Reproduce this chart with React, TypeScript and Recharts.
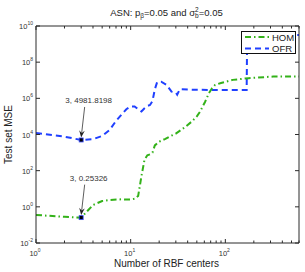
import { LineChart, Line, XAxis, YAxis, ReferenceDot } from 'recharts';

// HOM series (number of RBF centers, test set MSE)
const homN = [1, 2, 3, 4, 5, 6, 8, 10, 11, 12, 13, 14, 15, 16, 17, 18, 20, 23, 26, 30, 38, 44, 50, 54, 61, 67, 72, 78, 90, 120, 176, 320, 600];
const homMse = [0.355, 0.28, 0.25326, 1.26, 2.1, 2.4, 2.6, 2.5, 2.8, 4.0, 50, 400, 710, 800, 1000, 2500, 4000, 5600, 7900, 11200, 27000, 51000, 100000, 182000, 630000, 1.9e6, 3.5e6, 5.5e6, 7.1e6, 1.05e7, 1.3e7, 1.6e7, 1.6e7];

// OFR series
const ofrN = [1, 2, 3, 4, 5, 6, 7, 8, 9, 10, 11, 12, 13, 14, 15, 16, 17, 18, 19, 20, 21, 24, 27, 30, 31, 33, 50, 100, 168, 170, 600];
const ofrMse = [12000, 7600, 4981.8198, 5500, 8300, 17800, 56000, 126000, 250000, 355000, 355000, 250000, 186000, 282000, 380000, 427000, 708000, 3.16e6, 7.6e6, 8.5e6, 8.3e6, 5.5e6, 2.34e6, 2.1e6, 1.58e6, 3.16e6, 2.95e6, 2.9e6, 2.9e6, 3.2e9, 3.2e9];

// data tips
const tipN = [3, 3];
const tipMse = [4981.8198, 0.25326];
const tipText = ['3, 4981.8198', '3, 0.25326'];

const xTicks = [1, 2, 3, 4, 5, 6, 7, 8, 9, 10, 20, 30, 40, 50, 60, 70, 80, 90, 100, 200, 300, 400, 500, 600];
const yTicks = [0.01, 1, 100, 1e4, 1e6, 1e8, 1e10];

const AXIS = '#2b2b2b';
const GREEN = '#33b219';
const BLUE = '#2040ff';
const FONT = '"Liberation Sans", Arial, sans-serif';

const homData = homN.map((n, i) => ({ n, mse: homMse[i] }));
const ofrData = ofrN.map((n, i) => ({ n, mse: ofrMse[i] }));

const isDecade = (v: number) => {
  const e = Math.log10(v);
  return Math.abs(e - Math.round(e)) < 1e-9;
};

function BottomTick({ x, y, payload }: any) {
  const major = isDecade(payload.value);
  return (
    <g>
      <line x1={x} y1={y} x2={x} y2={y - (major ? 4 : 2.5)} stroke={AXIS} />
      {major && (
        <text x={x - 1} y={y + 13} textAnchor="middle" fontSize={7.5} fill="#333">
          10<tspan dy={-4} fontSize={5}>{Math.round(Math.log10(payload.value))}</tspan>
        </text>
      )}
    </g>
  );
}

function TopTick({ x, y, payload }: any) {
  const major = isDecade(payload.value);
  return <line x1={x} y1={y} x2={x} y2={y + (major ? 4 : 2.5)} stroke={AXIS} />;
}

function LeftTick({ x, y, payload }: any) {
  return (
    <g>
      <line x1={x} y1={y} x2={x + 4} y2={y} stroke={AXIS} />
      <text x={x - 3} y={y + 3} textAnchor="end" fontSize={7.5} fill="#333">
        10<tspan dy={-4} fontSize={5}>{Math.round(Math.log10(payload.value))}</tspan>
      </text>
    </g>
  );
}

function RightTick({ x, y }: any) {
  return <line x1={x} y1={y} x2={x - 4} y2={y} stroke={AXIS} />;
}

// MATLAB style data tip: label, arrow and square marker
function DataTip(props: any) {
  const cx = Number(props.cx);
  const cy = Number(props.cy);
  const sx = cx + 3.5;
  const sy = cy - 33;
  const tx = cx;
  const ty = cy - 2.5;
  const ang = Math.atan2(ty - sy, tx - sx);
  const c = Math.cos(ang);
  const s = Math.sin(ang);
  const L = 7;
  const W = 2.8;
  const bx = tx - L * c;
  const by = ty - L * s;
  const nx = tx - L * 0.65 * c;
  const ny = ty - L * 0.65 * s;
  const head = `${tx},${ty} ${bx - W * s},${by + W * c} ${nx},${ny} ${bx + W * s},${by - W * c}`;
  return (
    <g>
      <text x={cx + 7.5} y={cy - 36.5} textAnchor="middle" fontSize={8} fill="#333">
        {props.text}
      </text>
      <line x1={sx} y1={sy} x2={nx} y2={ny} stroke="#333" strokeWidth={0.8} />
      <polygon points={head} fill="#222" />
      <rect x={cx - 2} y={cy - 2} width={4} height={4} fill="#000" stroke="#3a4dff" strokeWidth={0.8} />
    </g>
  );
}

function Title({ viewBox }: any) {
  const cx = viewBox.x + viewBox.width / 2 - 1;
  return (
    <text x={cx} y={15.5} textAnchor="middle" fontSize={9.5} fill="#222">
      ASN: p<tspan dy={2.5} fontSize={6.5}>β</tspan>
      <tspan dy={-2.5}>=0.05 and σ</tspan>
      <tspan dy={-4} fontSize={6.5}>2</tspan>
      <tspan dx={-3.6} dy={6.5} fontSize={6.5}>b</tspan>
      <tspan dy={-2.5}>=0.05</tspan>
    </text>
  );
}

function XLabel({ viewBox }: any) {
  return (
    <text x={viewBox.x + viewBox.width / 2 - 1} y={viewBox.y + 24} textAnchor="middle" fontSize={10} fill="#222">
      Number of RBF centers
    </text>
  );
}

function YLabel({ viewBox }: any) {
  const cx = 11.5;
  const cy = viewBox.y + viewBox.height / 2;
  return (
    <text x={cx} y={cy} transform={`rotate(-90, ${cx}, ${cy})`} textAnchor="middle" fontSize={10} fill="#222">
      Test set MSE
    </text>
  );
}

export default function App() {
  return (
    <div style={{ position: 'absolute', left: 0, top: 0, width: 305, height: 272, background: '#fff', fontFamily: FONT }}>
      <LineChart width={305} height={272} margin={{ top: 0, right: 0, bottom: 0, left: 0 }}>
        <XAxis
          dataKey="n"
          type="number"
          scale="log"
          domain={[1, 600]}
          allowDataOverflow
          ticks={xTicks}
          interval={0}
          tick={<BottomTick />}
          tickSize={0}
          tickMargin={0}
          tickLine={false}
          axisLine={{ stroke: AXIS }}
          height={29}
          label={{ content: (p: any) => <XLabel {...p} /> }}
        />
        <XAxis
          xAxisId="top"
          dataKey="n"
          type="number"
          scale="log"
          orientation="top"
          domain={[1, 600]}
          allowDataOverflow
          ticks={xTicks}
          interval={0}
          tick={<TopTick />}
          tickSize={0}
          tickMargin={0}
          tickLine={false}
          axisLine={{ stroke: AXIS }}
          height={26}
          label={{ content: (p: any) => <Title {...p} /> }}
        />
        <YAxis
          type="number"
          scale="log"
          domain={[0.01, 1e10]}
          allowDataOverflow
          ticks={yTicks}
          interval={0}
          tick={<LeftTick />}
          tickSize={0}
          tickMargin={0}
          tickLine={false}
          axisLine={{ stroke: AXIS }}
          width={36}
          label={{ content: (p: any) => <YLabel {...p} /> }}
        />
        <YAxis
          yAxisId="right"
          orientation="right"
          type="number"
          scale="log"
          domain={[0.01, 1e10]}
          allowDataOverflow
          ticks={yTicks}
          interval={0}
          tick={<RightTick />}
          tickSize={0}
          tickMargin={0}
          tickLine={false}
          axisLine={{ stroke: AXIS }}
          width={6}
        />
        <Line
          data={ofrData}
          dataKey="mse"
          type="linear"
          stroke={BLUE}
          strokeWidth={2}
          strokeDasharray="6 4"
          dot={false}
          activeDot={false}
          isAnimationActive={false}
        />
        <Line
          data={homData}
          dataKey="mse"
          type="linear"
          stroke={GREEN}
          strokeWidth={2}
          strokeDasharray="6 3 1.5 3"
          dot={false}
          activeDot={false}
          isAnimationActive={false}
        />
        {tipN.map((n, i) => (
          <ReferenceDot
            key={i}
            x={n}
            y={tipMse[i]}
            r={2}
            ifOverflow="visible"
            shape={(p: any) => <DataTip {...p} text={tipText[i]} />}
          />
        ))}
      </LineChart>
      <div
        style={{
          position: 'absolute',
          left: 241,
          top: 31,
          width: 55,
          height: 23,
          border: '1px solid #111',
          background: '#fff',
          boxSizing: 'border-box',
        }}
      >
        <svg width={53} height={21} style={{ display: 'block' }}>
          <line x1={3} y1={5} x2={27} y2={5} stroke={GREEN} strokeWidth={2} strokeDasharray="6 3 1.5 3" />
          <text x={30} y={8.5} fontSize={9.5} fill="#222" fontFamily={FONT}>HOM</text>
          <line x1={3} y1={16.5} x2={27} y2={16.5} stroke={BLUE} strokeWidth={2} strokeDasharray="6 4" />
          <text x={30} y={20} fontSize={9.5} fill="#222" fontFamily={FONT}>OFR</text>
        </svg>
      </div>
    </div>
  );
}
